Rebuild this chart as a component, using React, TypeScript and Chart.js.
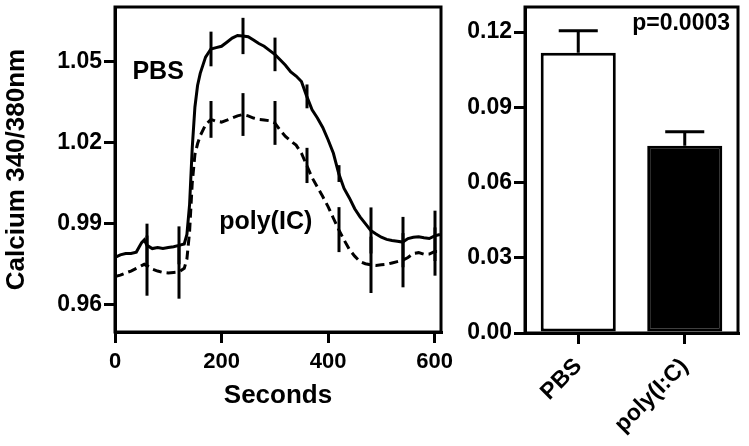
import React, { useEffect, useRef } from "react";
import { Chart, registerables } from "chart.js";
Chart.register(...registerables);

const FONT = "'Liberation Sans', Arial, Helvetica, sans-serif";

// ---- Left panel: calcium traces ----
const seconds = [
  0, 10, 20, 30, 40, 50, 55, 60, 70, 80, 90, 100, 110, 120, 130, 135, 140, 145, 150, 155, 160,
  170, 180, 190, 200, 210, 220, 230, 240, 250, 260, 270, 280, 290, 300, 310, 320, 330, 340, 350,
  360, 370, 380, 390, 400, 410, 420, 430, 440, 450, 460, 470, 480, 490, 500, 510, 520, 530, 540,
  550, 560, 570, 580, 590, 600, 610,
];
const pbsTrace = [
  0.9775, 0.9785, 0.979, 0.979, 0.9795, 0.983, 0.984, 0.982, 0.9808, 0.9812, 0.9808, 0.9812,
  0.9815, 0.982, 0.9825, 0.986, 0.997, 1.018, 1.033, 1.041, 1.0455, 1.0515, 1.0545, 1.055,
  1.0555, 1.057, 1.0585, 1.0595, 1.0593, 1.059, 1.0578, 1.0565, 1.0555, 1.054, 1.0525, 1.0505,
  1.0485, 1.046, 1.0445, 1.0425, 1.037, 1.032, 1.029, 1.0255, 1.021, 1.016, 1.0085, 1.003,
  0.9995, 0.9955, 0.9925, 0.99, 0.9875, 0.9862, 0.985, 0.9842, 0.9838, 0.9835, 0.9832, 0.9845,
  0.985, 0.9852, 0.9848, 0.9845, 0.9855, 0.986,
];
const polyTrace = [
  0.9705, 0.971, 0.9718, 0.9725, 0.9735, 0.9745, 0.975, 0.9745, 0.9732, 0.9725, 0.972, 0.9718,
  0.972, 0.9722, 0.9735, 0.977, 0.987, 1.005, 1.0155, 1.0195, 1.0225, 1.0265, 1.0285, 1.0278,
  1.0275, 1.0282, 1.029, 1.0298, 1.0303, 1.0298, 1.029, 1.0285, 1.0283, 1.028, 1.0272, 1.0245,
  1.0222, 1.0205, 1.019, 1.016, 1.0115, 1.007, 1.0035, 1.0, 0.9963, 0.992, 0.9878, 0.984,
  0.9805, 0.978, 0.976, 0.9752, 0.9748, 0.9746, 0.9748, 0.975, 0.9755, 0.976, 0.9765, 0.9775,
  0.979, 0.9793, 0.9787, 0.9788, 0.9797, 0.9797,
];
const errSeconds = [60, 120, 180, 240, 300, 360, 420, 480, 540, 600];
const pbsTraceErr = [0.008, 0.007, 0.0064, 0.0067, 0.0062, 0.0044, 0.0031, 0.0085, 0.0093, 0.0093];
const polyTraceErr = [0.0111, 0.0099, 0.0068, 0.0079, 0.0081, 0.0065, 0.0083, 0.0104, 0.01, 0.0089];
const lineXTicks = [0, 200, 400, 600];
const lineYTicks = [0.96, 0.99, 1.02, 1.05];
const traceLabels = [
  { text: "PBS", x: 81, y: 1.046 },
  { text: "poly(IC)", x: 283, y: 0.9906 },
];

// ---- Right panel: bar chart ----
const barCategories = ["PBS", "poly(I:C)"];
const barMeans = [0.1118, 0.0747];
const barErrs = [0.0087, 0.0056];
const barYTicks = [0, 0.03, 0.06, 0.09, 0.12];
const pValueText = "p=0.0003";

const framePlugin = {
  id: "frame",
  afterDraw(chart: any) {
    const { ctx, chartArea } = chart;
    ctx.save();
    ctx.strokeStyle = "#000";
    ctx.lineWidth = 3;
    ctx.strokeRect(chartArea.left, chartArea.top, chartArea.right - chartArea.left, chartArea.bottom - chartArea.top);
    ctx.restore();
  },
};

const traceErrPlugin = {
  id: "traceErr",
  afterDatasetsDraw(chart: any) {
    const { ctx } = chart;
    const xs = chart.scales.x;
    const ys = chart.scales.y;
    const series = [
      { vals: pbsTrace, errs: pbsTraceErr },
      { vals: polyTrace, errs: polyTraceErr },
    ];
    ctx.save();
    ctx.strokeStyle = "#000";
    ctx.lineWidth = 3;
    ctx.lineCap = "butt";
    series.forEach((s) => {
      errSeconds.forEach((t, j) => {
        const idx = seconds.indexOf(t);
        const v = s.vals[idx];
        const e = s.errs[j];
        const px = Math.round(xs.getPixelForValue(t));
        ctx.beginPath();
        ctx.moveTo(px, ys.getPixelForValue(v - e));
        ctx.lineTo(px, ys.getPixelForValue(v + e));
        ctx.stroke();
      });
    });
    ctx.fillStyle = "#000";
    ctx.font = `bold 25px ${FONT}`;
    ctx.textAlign = "center";
    ctx.textBaseline = "middle";
    traceLabels.forEach((l) => {
      ctx.fillText(l.text, xs.getPixelForValue(l.x), ys.getPixelForValue(l.y));
    });
    ctx.restore();
  },
};

const barErrPlugin = {
  id: "barErr",
  afterDatasetsDraw(chart: any) {
    const { ctx, chartArea } = chart;
    const ys = chart.scales.y;
    const meta = chart.getDatasetMeta(0);
    ctx.save();
    ctx.strokeStyle = "#000";
    ctx.lineWidth = 3;
    meta.data.forEach((bar: any, i: number) => {
      const x = bar.x;
      const yTop = ys.getPixelForValue(barMeans[i] + barErrs[i]);
      const yBar = ys.getPixelForValue(barMeans[i]);
      const half = bar.width * 0.26;
      ctx.beginPath();
      ctx.moveTo(x, yBar);
      ctx.lineTo(x, yTop);
      ctx.moveTo(x - half, yTop);
      ctx.lineTo(x + half, yTop);
      ctx.stroke();
    });
    ctx.fillStyle = "#000";
    ctx.font = `bold 23px ${FONT}`;
    ctx.textAlign = "right";
    ctx.textBaseline = "middle";
    ctx.fillText(pValueText, chartArea.right - 8, ys.getPixelForValue(0.1235));
    ctx.restore();
  },
};

export default function App() {
  const lineRef = useRef<HTMLCanvasElement>(null);
  const barRef = useRef<HTMLCanvasElement>(null);

  useEffect(() => {
    const yTickFont = { family: FONT, size: 23, weight: "bold" as const };
    const xTickFont = { family: FONT, size: 22, weight: "bold" as const };
    const catTickFont = { family: FONT, size: 23, weight: "bold" as const };
    const grid = {
      drawOnChartArea: false,
      drawTicks: true,
      tickLength: 11,
      color: "#000",
      lineWidth: 3,
    };
    const border = { display: true, color: "#000", width: 3 };

    const lineChart = new Chart(lineRef.current as HTMLCanvasElement, {
      type: "line",
      data: {
        datasets: [
          {
            label: "PBS",
            data: seconds.map((t, i) => ({ x: t, y: pbsTrace[i] })),
            borderColor: "#000",
            borderWidth: 3,
            pointRadius: 0,
            tension: 0,
            fill: false,
          },
          {
            label: "poly(IC)",
            data: seconds.map((t, i) => ({ x: t, y: polyTrace[i] })),
            borderColor: "#000",
            borderWidth: 3,
            borderDash: [9, 5],
            pointRadius: 0,
            tension: 0,
            fill: false,
          },
        ],
      },
      options: {
        responsive: false,
        animation: false,
        layout: { padding: { top: 7, right: 29, left: 0, bottom: 0 } },
        plugins: { legend: { display: false }, tooltip: { enabled: false } },
        scales: {
          x: {
            type: "linear",
            min: 0,
            max: 612,
            afterBuildTicks: (s: any) => {
              s.ticks = lineXTicks.map((v) => ({ value: v }));
            },
            afterFit: (s: any) => {
              s.height = 114;
              s.paddingLeft = 0;
              s.paddingRight = 0;
            },
            grid,
            border,
            ticks: {
              color: "#000",
              font: xTickFont,
              padding: 6,
              maxRotation: 0,
              callback: (v: any) => String(v),
            },
            title: {
              display: true,
              text: "Seconds",
              color: "#000",
              font: { family: FONT, size: 26, weight: "bold" },
              padding: { top: 0, bottom: 35 },
            },
          },
          y: {
            type: "linear",
            min: 0.95,
            max: 1.07,
            afterBuildTicks: (s: any) => {
              s.ticks = lineYTicks.map((v) => ({ value: v }));
            },
            afterFit: (s: any) => {
              s.width = 115;
              s.paddingTop = 0;
              s.paddingBottom = 0;
            },
            grid,
            border,
            ticks: {
              color: "#000",
              font: yTickFont,
              padding: 2,
              callback: (v: any) => Number(v).toFixed(2),
            },
            title: {
              display: true,
              text: "Calcium 340/380nm",
              color: "#000",
              font: { family: FONT, size: 26, weight: "bold" },
              padding: { top: 1, bottom: 0 },
            },
          },
        },
      },
      plugins: [traceErrPlugin, framePlugin],
    } as any);

    const barChart = new Chart(barRef.current as HTMLCanvasElement, {
      type: "bar",
      data: {
        labels: barCategories,
        datasets: [
          {
            data: barMeans,
            backgroundColor: ["#ffffff", "#000000"],
            borderColor: "#000",
            borderWidth: 3,
            borderSkipped: false,
            categoryPercentage: 1,
            barPercentage: 0.705,
          },
        ],
      },
      options: {
        responsive: false,
        animation: false,
        layout: { padding: { top: 7, right: 11, left: 0, bottom: 0 } },
        plugins: { legend: { display: false }, tooltip: { enabled: false } },
        scales: {
          x: {
            type: "category",
            offset: true,
            afterFit: (s: any) => {
              s.height = 113;
              s.paddingLeft = 0;
              s.paddingRight = 0;
            },
            grid: { ...grid, offset: false },
            border,
            ticks: {
              color: "#000",
              font: catTickFont,
              padding: 9,
              maxRotation: 45,
              minRotation: 45,
              autoSkip: false,
            },
          },
          y: {
            type: "linear",
            min: 0,
            max: 0.13,
            afterBuildTicks: (s: any) => {
              s.ticks = barYTicks.map((v) => ({ value: v }));
            },
            afterFit: (s: any) => {
              s.width = 75;
              s.paddingTop = 0;
              s.paddingBottom = 0;
            },
            grid,
            border,
            ticks: {
              color: "#000",
              font: yTickFont,
              padding: 2,
              callback: (v: any) => Number(v).toFixed(2),
            },
          },
        },
      },
      plugins: [barErrPlugin, framePlugin],
    } as any);

    return () => {
      lineChart.destroy();
      barChart.destroy();
    };
  }, []);

  return (
    <div style={{ position: "fixed", left: 0, top: 0, width: 749, height: 446, background: "#fff" }}>
      <canvas ref={lineRef} width={470} height={446} style={{ position: "absolute", left: 0, top: 0 }} />
      <canvas ref={barRef} width={299} height={446} style={{ position: "absolute", left: 450, top: 0 }} />
    </div>
  );
}
